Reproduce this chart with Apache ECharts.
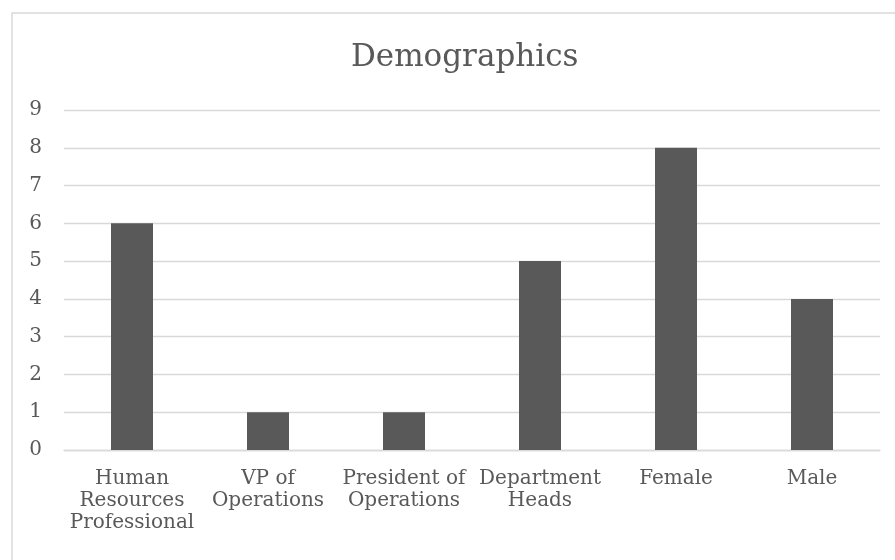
<!DOCTYPE html>
<html>
<head>
<meta charset="utf-8">
<script src="https://cdn.jsdelivr.net/npm/echarts@6/dist/echarts.min.js"></script>
<style>html,body{margin:0;padding:0;background:#fff}#c{width:895px;height:560px}</style>
</head>
<body>
<div id="c"></div>
<script>
const titleText = 'Demographics';
const categories = ['Human\nResources\nProfessional', 'VP of\nOperations', 'President of\nOperations', 'Department\nHeads', 'Female', 'Male'];
const values = [6, 1, 1, 5, 8, 4];
const yTicks = [0, 9, 1]; // min, max, interval

const font = 'DejaVu Serif';
const chart = echarts.init(document.getElementById('c'));
chart.setOption({
  animation: false,
  backgroundColor: '#fff',
  graphic: [{
    type: 'rect', silent: true,
    shape: { x: 12, y: 13, width: 900, height: 560 },
    style: { fill: 'none', stroke: '#d9d9d9', lineWidth: 1.5 }
  }],
  title: {
    text: titleText, left: 346, top: 37,
    textStyle: { fontFamily: font, fontSize: 31, fontWeight: 'normal', color: '#595959' }
  },
  grid: { left: 64, right: 15, top: 110, bottom: 110, containLabel: false },
  xAxis: {
    type: 'category', data: categories,
    axisLine: { lineStyle: { color: '#d9d9d9', width: 1.3 } },
    axisTick: { show: false },
    axisLabel: { interval: 0, margin: 18, fontFamily: font, fontSize: 20, lineHeight: 22, color: '#595959' }
  },
  yAxis: {
    type: 'value', min: yTicks[0], max: yTicks[1], interval: yTicks[2],
    axisLine: { show: false }, axisTick: { show: false },
    splitLine: { lineStyle: { color: '#d9d9d9', width: 1.3 } },
    axisLabel: { margin: 22, fontFamily: font, fontSize: 20, color: '#595959' }
  },
  series: [{
    type: 'bar', data: values, barWidth: 42,
    itemStyle: { color: '#595959' }
  }]
});
</script>
</body>
</html>
